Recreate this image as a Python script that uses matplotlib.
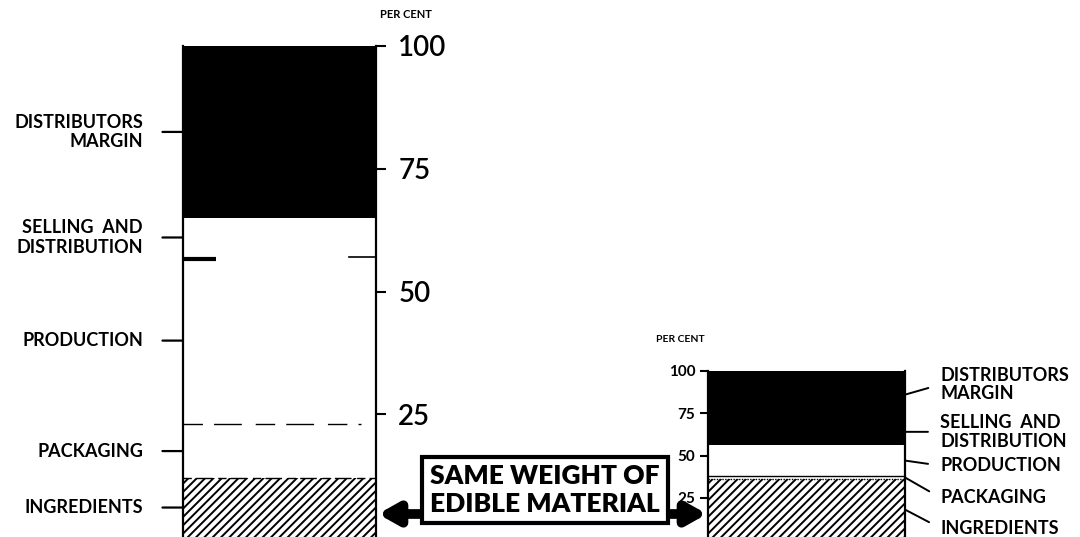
import matplotlib
matplotlib.use("Agg")
import matplotlib.pyplot as plt
from matplotlib.text import Annotation

plt.rcParams['font.family'] = ['Lato', 'DejaVu Sans']
plt.rcParams['hatch.linewidth'] = 1.4

# cost components, bottom to top, per cent of retail price
components = ["INGREDIENTS", "PACKAGING", "PRODUCTION",
              "SELLING  AND\nDISTRIBUTION", "DISTRIBUTORS\nMARGIN"]
left_shares = [12, 11, 34, 8, 35]
right_shares = [36, 2, 18, 16, 28]
ticks = [25, 50, 75, 100]
box_text = "SAME WEIGHT OF\nEDIBLE MATERIAL"

W, H = 1080, 537
fig = plt.figure(figsize=(W / 100, H / 100), dpi=100)


def px_axes(x0, x1, y_top, y_bottom):
    # pixel box (y from top of image) -> figure axes
    return fig.add_axes([x0 / W, (H - y_bottom) / H, (x1 - x0) / W, (y_bottom - y_top) / H])


def stacked(ax, shares, faces, hatches):
    bottom = 0
    for s, fc, h in zip(shares, faces, hatches):
        ax.bar(0, s, width=1, bottom=bottom, color=fc, hatch=h,
               edgecolor='black', linewidth=0)
        bottom += s
    ax.set_xlim(-0.5, 0.5)
    ax.set_ylim(0, 100)
    for side in ('top', 'bottom'):
        ax.spines[side].set_visible(False)
    for side in ('left', 'right'):
        ax.spines[side].set_linewidth(1.6)
    ax.set_xticks([])


def mids(shares):
    out, b = [], 0
    for s in shares:
        out.append(b + s / 2)
        b += s
    return out


def cum(shares):
    out, b = [], 0
    for s in shares[:-1]:
        b += s
        out.append(b)
    return out


# ---- left (large) bar ----
axl = px_axes(183, 376, 46, 537)
stacked(axl, left_shares, ['white', 'white', 'white', 'white', 'black'],
        ['////', None, None, None, None])
axl.yaxis.tick_right()
axl.set_yticks(ticks)
axl.set_yticklabels([str(t) for t in ticks])
axl.tick_params(axis='y', direction='out', length=7, width=1.5, pad=9, labelsize=20)
for t in axl.get_yticklabels():
    t.set_fontweight('semibold')
b = cum(left_shares)
axl.axhline(b[0], color='black', lw=1.0, ls=(0, (6, 3, 12, 4)))
axl.axhline(b[1], xmax=0.92, color='black', lw=1.0, ls=(0, (14, 8, 20, 10)))
axl.plot([-0.5, -0.33], [b[2] - 0.3, b[2] - 0.3], color='black', lw=3, solid_capstyle='butt')
axl.plot([0.36, 0.5], [b[2], b[2]], color='black', lw=1.2)
for lab, m in zip(components, mids(left_shares)):
    axl.annotate(lab, xy=(0, m), xycoords=('axes fraction', 'data'),
                 xytext=(-40, 0), textcoords='offset pixels',
                 ha='right', va='center', fontsize=13, fontweight='bold',
                 linespacing=1.2,
                 arrowprops=dict(arrowstyle='-', lw=1.6, relpos=(1, 0.5),
                                 shrinkA=12, shrinkB=0))
fig.text(406 / W, 1 - 15 / H, "PER CENT", ha='center', va='center',
         fontsize=8, fontweight='bold')

# ---- right (small) bar ----
axr = px_axes(708, 905, 371, 540)
stacked(axr, right_shares, ['white', 'white', 'white', 'black', 'black'],
        ['////', None, None, None, None])
axr.set_yticks(ticks)
axr.set_yticklabels([str(t) for t in ticks])
axr.tick_params(axis='y', direction='out', length=6, width=1.5, pad=3,
                labelsize=11)
for t in axr.get_yticklabels():
    t.set_fontweight('bold')
rb = cum(right_shares)
axr.axhline(rb[0], color='black', lw=1.0, ls=(0, (1, 1)))
axr.axhline(rb[1], color='black', lw=1.0)
label_y = [7, 25, 44, 64, 92]
for lab, m, ty in zip(components, mids(right_shares), label_y):
    axr.annotate(lab, xy=(1, m), xycoords=('axes fraction', 'data'),
                 xytext=(1.18, ty), textcoords=('axes fraction', 'data'),
                 ha='left', va='center', fontsize=13, fontweight='bold',
                 linespacing=1.1, annotation_clip=False,
                 arrowprops=dict(arrowstyle='-', lw=1.4, relpos=(0, 0.5),
                                 shrinkA=7, shrinkB=0))
fig.text(680 / W, 1 - 340 / H, "PER CENT", ha='center', va='center',
         fontsize=7.5, fontweight='bold')

# ---- central box with arrows ----
arrow = dict(arrowstyle='-|>,head_length=0.8,head_width=0.45', lw=7,
             color='black', shrinkA=0, shrinkB=0, mutation_scale=14)
for tip, tail in [(378, 430), (707, 660)]:
    a = Annotation("", xy=(tip / W, 1 - 514 / H), xycoords='figure fraction',
                   xytext=(tail / W, 1 - 514 / H), textcoords='figure fraction',
                   arrowprops=arrow)
    a.set_zorder(-1)
    fig.add_artist(a)
fig.text(545 / W, 1 - 490 / H, box_text, ha='center', va='center',
         fontsize=19, fontweight='heavy', linespacing=1.15,
         bbox=dict(boxstyle='square,pad=0.3', fc='white', ec='black', lw=3))

fig.savefig("out.png", dpi=100, facecolor='white')
